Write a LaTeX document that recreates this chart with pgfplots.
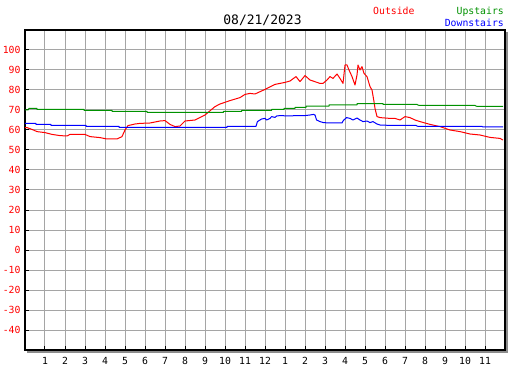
\documentclass[border=0pt]{standalone}
\usepackage{pgfplots}
\pgfplotsset{compat=1.18}
\usepackage{fontspec}
\setmonofont{DejaVu Sans Mono}
\definecolor{gridgray}{RGB}{165,165,165}
\definecolor{shadowgray}{RGB}{140,140,140}
\definecolor{upgreen}{RGB}{0,145,0}
\begin{document}
\begin{tikzpicture}[x=1pt,y=1pt]
\begin{axis}[
  at={(25pt,20pt)}, anchor=south west,
  scale only axis, width=480pt, height=320pt,
  xmin=0, xmax=24, ymin=-50, ymax=110,
  xtick={1,2,...,23},
  xticklabels={1,2,3,4,5,6,7,8,9,10,11,12,1,2,3,4,5,6,7,8,9,10,11},
  ytick={-40,-30,...,100},
  yticklabels={-40,-30,-20,-10,0,10,20,30,40,50,60,70,80,90,100},
  grid=major,
  major grid style={color=gridgray, line width=1pt},
  tick align=inside, tick pos=left,
  major tick length=4.5pt,
  tick style={black, line width=1pt},
  axis line style={black, line width=1.2pt},
  yticklabel style={text=red, font=\fontsize{9.8}{10}\selectfont\ttfamily, inner sep=0pt, xshift=-4.3pt},
  xticklabel style={text=black, font=\fontsize{9.8}{10}\selectfont\ttfamily, inner sep=0pt, yshift=-7pt},
  every axis plot/.append style={line width=1pt, line join=round, no markers},
]
\addplot[red] coordinates {
(0,61.2)(0.1,61.2)(0.35,60.3)(0.6,59.2)(1.0,58.7)(1.35,57.8)(1.75,57.2)(2.1,57.0)(2.25,57.8)(3.0,57.8)(3.25,56.7)(3.75,56.2)(4.1,55.5)(4.6,55.5)(4.85,56.7)(5.0,60.0)(5.15,62.2)(5.5,63.0)(5.75,63.3)(6.25,63.5)(6.75,64.5)(7.0,64.7)(7.25,62.8)(7.5,61.7)(7.75,62.0)(8.0,64.5)(8.5,65.0)(9.0,67.5)(9.5,71.7)(9.75,73.0)(10.25,74.7)(10.75,76.2)(11.0,77.8)(11.25,78.3)(11.5,78.0)(12.0,80.3)(12.5,82.8)(13.0,83.8)(13.25,84.5)(13.55,86.7)(13.75,84.2)(14.0,87.2)(14.25,85.0)(14.75,83.3)(14.9,83.3)(15.1,85.0)(15.25,86.7)(15.4,85.8)(15.6,88.0)(15.75,85.8)(15.9,83.3)(16.0,92.5)(16.1,92.5)(16.2,90.0)(16.35,86.7)(16.5,82.5)(16.6,87.5)(16.65,92.5)(16.75,90.0)(16.85,91.7)(16.95,88.3)(17.1,86.7)(17.25,81.7)(17.35,80.0)(17.45,74.2)(17.5,70.8)(17.6,66.7)(17.75,66.2)(18.25,65.8)(18.5,65.8)(18.75,65.0)(19.0,66.7)(19.25,66.2)(19.5,65.0)(19.75,64.2)(20.25,62.8)(20.75,61.7)(21.25,60.0)(21.75,59.2)(22.25,58.0)(22.75,57.5)(23.25,56.3)(23.75,55.8)(23.9,55.0)
};
\addplot[upgreen] coordinates {
(0,70.0)(0.15,70.0)(0.2,70.8)(0.6,70.8)(0.6,70.3)(2.95,70.3)(2.95,69.8)(4.35,69.8)(4.35,69.3)(6.1,69.3)(6.1,68.8)(9.92,68.8)(9.92,69.3)(10.83,69.3)(10.83,69.8)(12.33,69.8)(12.33,70.3)(12.95,70.3)(12.95,70.8)(13.5,70.8)(13.5,71.3)(14.05,71.3)(14.05,71.9)(15.2,71.9)(15.2,72.6)(16.6,72.6)(16.6,73.2)(17.9,73.2)(17.9,72.8)(19.6,72.8)(19.65,72.5)(19.7,72.3)(22.5,72.3)(22.55,72.0)(22.6,71.8)(23.9,71.8)
};
\addplot[blue] coordinates {
(0,63.3)(0.55,63.3)(0.55,62.8)(1.3,62.8)(1.3,62.3)(3.05,62.3)(3.05,61.8)(4.7,61.8)(4.7,61.3)(10.1,61.3)(10.1,61.8)(11.55,61.8)(11.62,64.2)(11.83,65.5)(12.0,65.8)(12.08,65.0)(12.25,65.8)(12.33,66.7)(12.5,66.3)(12.58,67.0)(12.75,67.2)(13.25,67.0)(13.5,67.2)(14.0,67.2)(14.25,67.5)(14.42,67.8)(14.5,67.5)(14.58,65.0)(14.75,64.2)(14.92,63.7)(15.25,63.5)(15.85,63.5)(15.92,64.8)(16.08,66.2)(16.25,65.8)(16.4,65.0)(16.6,66.0)(16.75,65.0)(16.9,64.2)(17.1,64.5)(17.25,63.7)(17.4,64.2)(17.6,63.0)(17.75,62.5)(18.25,62.3)(19.55,62.3)(19.6,62.0)(19.65,61.8)(22.85,61.8)(22.9,61.5)(23.9,61.5)
};
\end{axis}
% drop shadow of the frame
\fill[shadowgray] (26.7,17.3) rectangle (508,19.3);
\fill[shadowgray] (506.3,17.3) rectangle (508,338);
% title and legend
\node[anchor=base, inner sep=0pt, font=\fontsize{13}{13}\selectfont\ttfamily] at (262.5,345) {08/21/2023};
\node[anchor=base west, inner sep=0pt, text=red, font=\fontsize{9.8}{10}\selectfont\ttfamily] at (373,355) {Outside};
\node[anchor=base east, inner sep=0pt, text=upgreen, font=\fontsize{9.8}{10}\selectfont\ttfamily] at (504,355) {Upstairs};
\node[anchor=base east, inner sep=0pt, text=blue, font=\fontsize{9.8}{10}\selectfont\ttfamily] at (504,343.5) {Downstairs};
\pgfresetboundingbox
\useasboundingbox (0,0) rectangle (527,370);
\end{tikzpicture}
\end{document}
